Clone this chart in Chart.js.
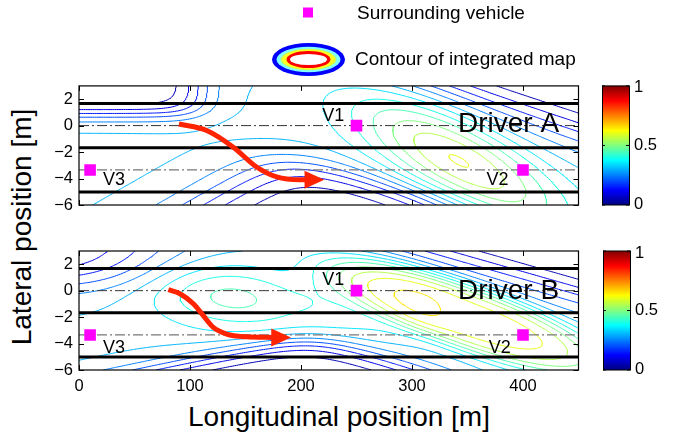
<!DOCTYPE html>
<html><head><meta charset="utf-8">
<script src="https://cdn.jsdelivr.net/npm/chart.js@4.4.1/dist/chart.umd.min.js"></script>
<style>
html,body{margin:0;padding:0;background:#fff;}
body{width:680px;height:435px;position:relative;overflow:hidden;font-family:"Liberation Sans",Arial,sans-serif;color:#000;}
canvas{position:absolute;}
.t{position:absolute;white-space:nowrap;}
</style></head><body>
<canvas id="leg" width="100" height="80" style="left:260px;top:0px"></canvas>
<div class="t" style="left:357px;top:2px;font-size:19px;line-height:22px">Surrounding vehicle</div>
<div class="t" style="left:355px;top:48px;font-size:19px;line-height:22px">Contour of integrated map</div>
<div class="t" style="left:-128px;top:213px;width:300px;text-align:center;font-size:28px;line-height:28px;transform:rotate(-90deg);">Lateral position [m]</div>
<div class="t" style="left:179px;top:403px;width:320px;text-align:center;font-size:28px;line-height:28px;">Longitudinal position [m]</div>
<canvas id="c1" width="680" height="160" style="left:0;top:70px"></canvas>
<canvas id="c2" width="680" height="200" style="left:0;top:235px"></canvas>
<script>
// ---------- data ----------
const xTicks = [0, 100, 200, 300, 400];
const yTicks = [-6, -4, -2, 0, 2];
const cbTicks = [0, 0.5, 1];
const contourLevels = [0.05,0.1,0.15,0.2,0.25,0.3,0.35,0.4,0.45,0.5,0.55,0.6,0.65];
const laneBoundaries = [1.675, -1.675, -5.025];
const laneCenters = [0, -3.35];
const vehicleNames = ['V1', 'V2', 'V3'];
const vehicleX = [250, 400, 10];
const vehicleY = [0, -3.35, -3.35];
const labelXA = [229, 377, 31.5], labelYA = [0.75, -4.1, -4.1];
const labelXB = [229, 379, 31.5], labelYB = [0.79, -4.33, -4.33];
const panelNames = ['Driver A', 'Driver B'];
const panelNameX = [387, 387], panelNameY = [0.07, -0.05];
// trajectory arrows (data coordinates)
const arrowAX = [90, 115, 139, 160, 178, 199, 205];
const arrowAY = [0.12, -0.37, -1.63, -3.13, -3.88, -4.1, -4.1];
const arrowATip = [221, -4.1];
const arrowBX = [80.5, 91, 103, 112, 121, 133, 151, 175];
const arrowBY = [0.08, -0.23, -0.99, -1.89, -2.78, -3.28, -3.49, -3.54];
const arrowBTip = [191, -3.54];
// integrated map model (x[m], y[m], amplitude, spreadA, spreadB, angle, profile)
const fieldABase = 0.31;
const fieldABumps = [[342, -2.65, 0.30, 6.2, 2.1, -30, 1]];
const fieldAWalls = [
  {amp: -0.31, planes: [[108, 0.89, 180, 1.03], [108, 0.89, 90, 0.43]]},
  {amp: -0.31, planes: [[185, -2.4, -60, 1.2], [185, -2.4, -106, 0.7], [380, -6, 164, 2]]},
  {amp: -0.37, planes: [[430, 0.4, 72, 1.2]]}
];
const fieldBBase = 0.31;
const fieldBBumps = [[350, -2.0, 0.32, 7.8, 1.7, -20, 2], [135, -0.4, 0.16, 4.5, 1.8, -8, 1], [265, -0.8, 0.05, 4, 2.2, -5, 2]];
const fieldBWalls = [
  {amp: -0.31, planes: [[66, 0.74, 180, 3.0], [66, 0.74, 90, 0.85]]},
  {amp: -0.31, planes: [[101, -5.4, -78, 0.55], [199, -3.3, -107, 0.6], [370, -6, 163, 1.5]]},
  {amp: -0.37, planes: [[440, 0.2, 74, 1.0]]}
];

// ---------- helpers ----------
const FONT = '"Liberation Sans", Arial, sans-serif';
function jet(v){const c=t=>Math.max(0,Math.min(1,t));return [c(1.5-Math.abs(4*v-3)),c(1.5-Math.abs(4*v-2)),c(1.5-Math.abs(4*v-1))];}
function jetCss(v){const q=jet(v);return 'rgb('+Math.round(q[0]*255)+','+Math.round(q[1]*255)+','+Math.round(q[2]*255)+')';}
function sig(t){return 1/(1+Math.exp(-t));}
function field(base, bumps, walls, x, y){
  const u=x/12, v=y; let f=base;
  for(const g of bumps){
    const du=u-g[0]/12, dv=v-g[1], t=g[5]*Math.PI/180;
    const a=du*Math.cos(t)+dv*Math.sin(t), b=-du*Math.sin(t)+dv*Math.cos(t);
    const q=(a/g[3])*(a/g[3])+(b/g[4])*(b/g[4]);
    f+=g[2]*Math.exp(-Math.pow(q/2,g[6]));
  }
  for(const w of walls){
    let s=w.amp;
    for(const p of w.planes){const t=p[2]*Math.PI/180;const d=(u-p[0]/12)*Math.cos(t)+(v-p[1])*Math.sin(t);s*=sig(d/p[3]);}
    f+=s;
  }
  return Math.max(0,f);
}
function contourSets(base,bumps,walls){
  const nx=226, ny=181, X=[], Y=[], G=[];
  for(let i=0;i<nx;i++)X.push(450*i/(nx-1));
  for(let j=0;j<ny;j++)Y.push(-6+9*j/(ny-1));
  for(let j=0;j<ny;j++){const r=[];for(let i=0;i<nx;i++)r.push(field(base,bumps,walls,X[i],Y[j]));G.push(r);}
  const sets=[];
  for(const L of contourLevels){
    const pt={}, adj={};
    const ip=(k,xa,ya,va,xb,yb,vb)=>{if(!(k in pt)){const t=(L-va)/(vb-va);pt[k]={x:xa+t*(xb-xa),y:ya+t*(yb-ya)};}return k;};
    const link=(a,b)=>{(adj[a]||(adj[a]=[])).push(b);(adj[b]||(adj[b]=[])).push(a);};
    for(let j=0;j<ny-1;j++)for(let i=0;i<nx-1;i++){
      const v00=G[j][i],v10=G[j][i+1],v01=G[j+1][i],v11=G[j+1][i+1];
      const c00=v00>=L,c10=v10>=L,c01=v01>=L,c11=v11>=L;
      let kb=null,kr=null,kt=null,kl=null;
      if(c00!==c10)kb=ip('h'+i+'_'+j,X[i],Y[j],v00,X[i+1],Y[j],v10);
      if(c10!==c11)kr=ip('v'+(i+1)+'_'+j,X[i+1],Y[j],v10,X[i+1],Y[j+1],v11);
      if(c01!==c11)kt=ip('h'+i+'_'+(j+1),X[i],Y[j+1],v01,X[i+1],Y[j+1],v11);
      if(c00!==c01)kl=ip('v'+i+'_'+j,X[i],Y[j],v00,X[i],Y[j+1],v01);
      const ks=[kb,kr,kt,kl].filter(k=>k!==null);
      if(ks.length===2)link(ks[0],ks[1]);
      else if(ks.length===4){const cen=(v00+v10+v01+v11)/4>=L;if(cen===c00){link(kb,kr);link(kl,kt);}else{link(kb,kl);link(kr,kt);}}
    }
    const walk=s=>{const line=[s];let cur=s;while(adj[cur]&&adj[cur].length){const n=adj[cur].pop();const a=adj[n];a.splice(a.indexOf(cur),1);line.push(n);cur=n;}return line;};
    const lines=[];
    for(const k in adj)if(adj[k].length===1)lines.push(walk(k));
    for(const k in adj)if(adj[k].length>0)lines.push(walk(k));
    const data=[];
    for(const ln of lines){for(const k of ln)data.push(pt[k]);data.push({x:NaN,y:NaN});}
    sets.push({data,showLine:true,borderColor:jetCss(L),borderWidth:1,pointRadius:0,tension:0,spanGaps:false,order:10});
  }
  return sets;
}
function laneSets(){
  const s=[];
  for(const y of laneBoundaries)s.push({data:[{x:0,y},{x:450,y}],showLine:true,borderColor:'#000',borderWidth:3,pointRadius:0,order:5});
  s.push({data:[{x:0,y:laneCenters[0]},{x:450,y:laneCenters[0]}],showLine:true,borderColor:'#333',borderWidth:1,borderDash:[10,3,2,3],pointRadius:0,order:5});
  s.push({data:[{x:0,y:laneCenters[1]},{x:450,y:laneCenters[1]}],showLine:true,borderColor:'#777',borderWidth:1.3,borderDash:[10,3,2,3],pointRadius:0,order:5});
  return s;
}
function vehicleSet(){
  return {data:vehicleX.map((x,i)=>({x,y:vehicleY[i]})),pointStyle:'rect',pointRadius:8.2,backgroundColor:'#ff00ff',borderWidth:0,showLine:false,order:0};
}
function arrowSet(ax,ay){
  return {data:ax.map((x,i)=>({x,y:ay[i]})),showLine:true,borderColor:'rgb(255,35,0)',borderWidth:5,pointRadius:0,cubicInterpolationMode:'monotone',order:1};
}
function deco(p){
  return {id:'deco'+p.idx,
    afterDatasetsDraw(chart){
      const ctx=chart.ctx,xs=chart.scales.x,ys=chart.scales.y;
      const n=p.ax.length;
      const ex=xs.getPixelForValue(p.ax[n-1]),ey=ys.getPixelForValue(p.ay[n-1]);
      const tx=xs.getPixelForValue(p.tip[0]),ty=ys.getPixelForValue(p.tip[1]);
      let dx=tx-ex,dy=ty-ey;const len=Math.hypot(dx,dy);dx/=len;dy/=len;
      const hb=ex-dx*2,hbY=ey-dy*2,hw=9;
      ctx.save();ctx.fillStyle='rgb(255,35,0)';ctx.beginPath();
      ctx.moveTo(tx,ty);ctx.lineTo(hb-dy*hw,hbY+dx*hw);ctx.lineTo(hb+dy*hw,hbY-dx*hw);ctx.closePath();ctx.fill();
      ctx.fillStyle='#000';ctx.textAlign='center';ctx.textBaseline='middle';
      ctx.font='18px '+FONT;
      for(let i=0;i<vehicleNames.length;i++)ctx.fillText(vehicleNames[i],xs.getPixelForValue(p.lx[i]),ys.getPixelForValue(p.ly[i]));
      ctx.font='28px '+FONT;
      ctx.fillText(panelNames[p.idx],xs.getPixelForValue(panelNameX[p.idx]),ys.getPixelForValue(panelNameY[p.idx]));
      ctx.restore();
    },
    afterDraw(chart){
      const ctx=chart.ctx,a=chart.chartArea,xs=chart.scales.x,ys=chart.scales.y;
      ctx.save();ctx.strokeStyle='#000';ctx.lineWidth=1;
      ctx.beginPath();
      for(const v of xTicks){const x=Math.round(xs.getPixelForValue(v))+0.5;ctx.moveTo(x,a.bottom);ctx.lineTo(x,a.bottom-5);ctx.moveTo(x,a.top);ctx.lineTo(x,a.top+5);}
      for(const v of yTicks){const y=Math.round(ys.getPixelForValue(v))+0.5;ctx.moveTo(a.left,y);ctx.lineTo(a.left+5,y);ctx.moveTo(a.right,y);ctx.lineTo(a.right-5,y);}
      ctx.stroke();
      ctx.lineWidth=1.2;ctx.strokeRect(a.left,a.top,a.right-a.left,a.bottom-a.top);
      const cx0=p.cbx,cw=27,top=a.top,bot=a.bottom;
      const gr=ctx.createLinearGradient(0,bot,0,top);
      for(let i=0;i<=40;i++)gr.addColorStop(i/40,jetCss(i/40));
      ctx.fillStyle=gr;ctx.fillRect(cx0,top,cw,bot-top);
      ctx.lineWidth=1;ctx.strokeRect(cx0+0.5,top,cw,bot-top);
      ctx.fillStyle='#000';ctx.font='16.5px '+FONT;ctx.textAlign='left';ctx.textBaseline='middle';
      for(const v of cbTicks){const y=bot-(bot-top)*v;
        ctx.beginPath();ctx.moveTo(cx0,y);ctx.lineTo(cx0+3,y);ctx.moveTo(cx0+cw,y);ctx.lineTo(cx0+cw-3,y);ctx.stroke();
        ctx.fillText(String(v),cx0+cw+5,y+(v===1?2:(v===0?-1:0)));}
      ctx.restore();
    }
  };
}
function makeChart(id,p){
  const ds=[].concat(contourSets(p.base,p.bumps,p.walls),laneSets(),[vehicleSet(),arrowSet(p.ax,p.ay)]);
  return new Chart(document.getElementById(id),{
    type:'scatter',data:{datasets:ds},
    options:{responsive:false,animation:false,devicePixelRatio:1,
      layout:{padding:{left:0,right:101.5,top:p.padTop,bottom:0}},
      plugins:{legend:{display:false},tooltip:{enabled:false}},
      scales:{
        x:{type:'linear',min:0,max:450,grid:{display:false,drawTicks:false},border:{display:false},
          afterBuildTicks:s=>{s.ticks=xTicks.map(v=>({value:v}));},
          ticks:{display:p.showX,padding:7,color:'#000',font:{family:FONT,size:16.5},maxRotation:0,autoSkip:false},
          afterFit:s=>{s.height=p.xh;}},
        y:{type:'linear',min:-6,max:3,grid:{display:false,drawTicks:false},border:{display:false},
          afterBuildTicks:s=>{s.ticks=yTicks.map(v=>({value:v}));},
          ticks:{padding:6,color:'#000',font:{family:FONT,size:16.5},autoSkip:false,callback:v=>v<0?'\u2212'+(-v):String(v)},
          afterFit:s=>{s.width=79;}}
      }},
    plugins:[deco(p)]
  });
}
makeChart('c1',{idx:0,base:fieldABase,bumps:fieldABumps,walls:fieldAWalls,ax:arrowAX,ay:arrowAY,tip:arrowATip,lx:labelXA,ly:labelYA,padTop:15,xh:25,showX:false,cbx:602});
makeChart('c2',{idx:1,base:fieldBBase,bumps:fieldBBumps,walls:fieldBWalls,ax:arrowBX,ay:arrowBY,tip:arrowBTip,lx:labelXB,ly:labelYB,padTop:16,xh:65,showX:true,cbx:603});
(function(){
  const c=document.getElementById('leg').getContext('2d');
  c.fillStyle='#ff00ff';c.fillRect(43,7.5,10,10);
  const cx=48.5,cy=59.5;
  const ell=(rx,ry,col)=>{c.beginPath();c.ellipse(cx,cy,rx,ry,0,0,Math.PI*2);c.fillStyle=col;c.fill();};
  ell(36.5,16.5,'#0000ff');ell(32,12.7,'#80ffff');ell(28,10.7,'#c0ff60');ell(26.5,10,'#ffff20');ell(22,8.6,'#ff0000');ell(18.5,5.6,'#ffffff');
})();
</script>
</body></html>
